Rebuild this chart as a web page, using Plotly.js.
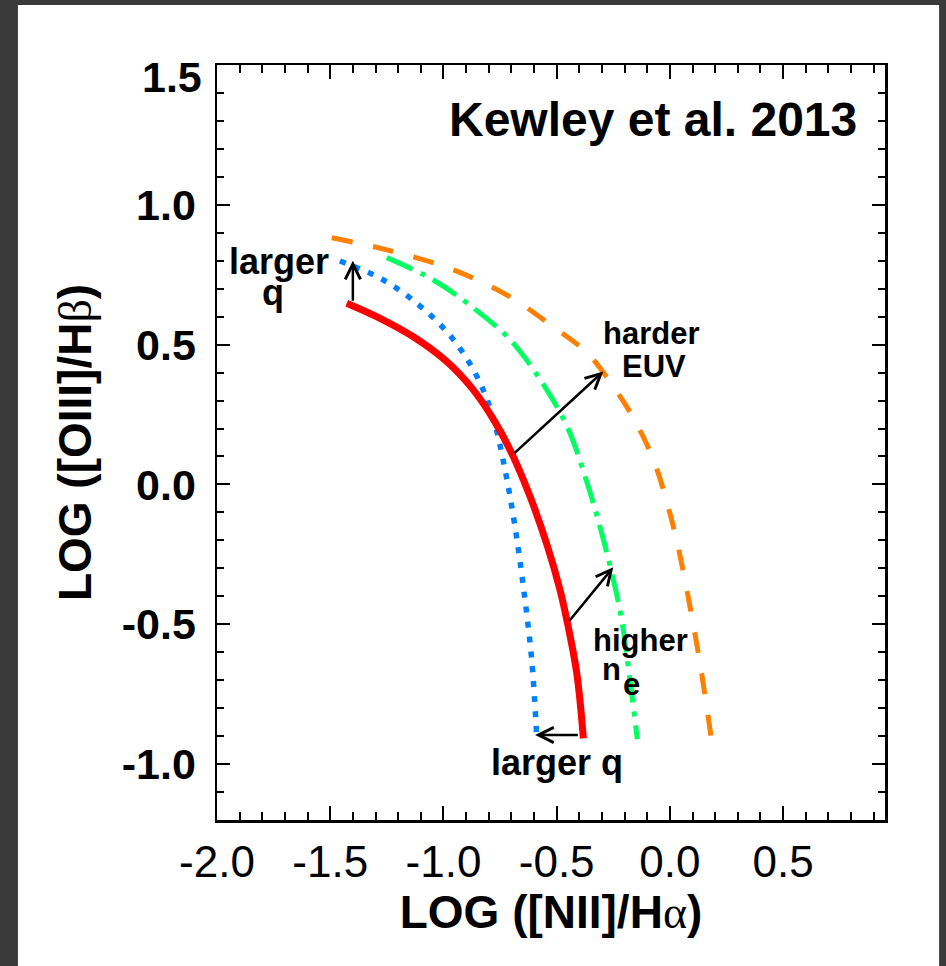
<!DOCTYPE html>
<html><head><meta charset="utf-8">
<script src="https://cdn.plot.ly/plotly-3.0.1.min.js"></script>
<style>html,body{margin:0;padding:0;background:#3a3a3a;}</style>
</head><body><div id="chart" style="width:946px;height:966px;"></div>
<script>
// Tick labels
const xTickVals = [-2.0, -1.5, -1.0, -0.5, 0.0, 0.5];
const xTickText = ['-2.0', '-1.5', '-1.0', '-0.5', '0.0', '0.5'];
const yTickVals = [-1.0, -0.5, 0.0, 0.5, 1.0, 1.5];
const yTickText = ['-1.0', '-0.5', '0.0', '0.5', '1.0', '1.5'];

// Curves
const redX = [-1.427, -1.280, -1.133, -0.985, -0.868, -0.772, -0.698, -0.617, -0.540, -0.485, -0.452, -0.411, -0.382];
const redY = [0.648, 0.594, 0.528, 0.439, 0.338, 0.223, 0.111, -0.044, -0.223, -0.378, -0.497, -0.676, -0.908];
const blueX = [-1.457, -1.267, -1.103, -0.962, -0.852, -0.781, -0.726, -0.684, -0.647, -0.610, -0.588];
const blueY = [0.799, 0.732, 0.638, 0.524, 0.386, 0.240, 0.044, -0.151, -0.366, -0.628, -0.902];
const greenX = [-1.250, -1.046, -0.869, -0.706, -0.573, -0.454, -0.366, -0.294, -0.219, -0.175, -0.144];
const greenY = [0.811, 0.732, 0.632, 0.518, 0.375, 0.207, 0.007, -0.196, -0.457, -0.707, -0.911];
const orangeX = [-1.493, -1.250, -0.958, -0.706, -0.516, -0.366, -0.250, -0.175, -0.073, 0.015, 0.077, 0.135, 0.185];
const orangeY = [0.882, 0.839, 0.768, 0.671, 0.564, 0.471, 0.350, 0.257, 0.089, -0.150, -0.386, -0.650, -0.920];

// Arrows (tail -> head)
const arrowTailX = [-1.40, -0.693, -0.449, -0.400];
const arrowTailY = [0.652, 0.107, -0.493, -0.896];
const arrowHeadX = [-1.40, -0.294, -0.250, -0.595];
const arrowHeadY = [0.800, 0.404, -0.296, -0.896];

// Labels
const labelTexts = ['larger', 'q', 'harder', 'EUV', 'higher', 'n', 'e', 'larger q', 'Kewley et al. 2013'];

const FONT = 'Liberation Sans, Arial, Helvetica, sans-serif';

const traces = [
  {x: orangeX, y: orangeY, mode: 'lines', line: {color: '#ff8000', width: 5, dash: '21px,21px', shape: 'spline'}},
  {x: greenX, y: greenY, mode: 'lines', line: {color: '#00ff60', width: 5, dash: '28px,9px,5px,9px', shape: 'spline'}},
  {x: blueX, y: blueY, mode: 'lines', line: {color: '#0080ff', width: 5.5, dash: '6px,9px', shape: 'spline'}},
  {x: redX, y: redY, mode: 'lines', line: {color: '#ff0000', width: 7, shape: 'spline'}}
];

const annotations = [];
for (let i = 0; i < arrowTailX.length; i++) {
  annotations.push({
    x: arrowHeadX[i], y: arrowHeadY[i], ax: arrowTailX[i], ay: arrowTailY[i],
    xref: 'x', yref: 'y', axref: 'x', ayref: 'y', text: '', showarrow: true,
    arrowhead: 5, arrowsize: 1.2, arrowwidth: 2.5, arrowcolor: 'black', standoff: 0, startstandoff: 0
  });
}
const labelPos = [
  {x: -1.728, y: 0.798, s: 36, xa: 'center'},
  {x: -1.754, y: 0.686, s: 36, xa: 'center'},
  {x: -0.084, y: 0.539, s: 31, xa: 'center'},
  {x: -0.071, y: 0.423, s: 31, xa: 'center'},
  {x: -0.130, y: -0.557, s: 31, xa: 'center'},
  {x: -0.256, y: -0.660, s: 31, xa: 'center'},
  {x: -0.170, y: -0.717, s: 31, xa: 'center'},
  {x: -0.500, y: -0.996, s: 36, xa: 'center'},
  {x: 0.836, y: 1.305, s: 48, xa: 'right'}
];
labelTexts.forEach((t, i) => {
  const p = labelPos[i];
  annotations.push({x: p.x, y: p.y, xref: 'x', yref: 'y', text: t, showarrow: false,
    xanchor: p.xa, yanchor: 'middle', font: {family: FONT, size: p.s, color: 'black', weight: 'bold'}});
});
// top y tick label drawn slightly below its tick, as in the original
annotations.push({x: 0, y: yTickVals[5], xref: 'paper', yref: 'y', text: yTickText[5], showarrow: false,
  xanchor: 'right', yanchor: 'middle', xshift: -13, yshift: -12,
  font: {family: FONT, size: 43, color: 'black', weight: 'bold'}});

const axisCommon = {
  showline: true, linecolor: 'black', linewidth: 2.5, mirror: 'ticks',
  ticks: 'inside', tickcolor: 'black', tickwidth: 2,
  showgrid: false, zeroline: false, tickmode: 'array'
};

const layout = {
  width: 946, height: 966,
  margin: {l: 217, r: 61, t: 65, b: 146},
  paper_bgcolor: '#3a3a3a', plot_bgcolor: 'white',
  showlegend: false,
  font: {family: FONT, color: 'black'},
  xaxis: Object.assign({}, axisCommon, {
    range: [-2.0, 0.95], tickvals: xTickVals, ticktext: xTickText, ticklen: 14,
    minor: {dtick: 0.1, tick0: 0, ticks: 'inside', ticklen: 8, tickwidth: 2, tickcolor: 'black', showgrid: false},
    tickfont: {family: FONT, size: 44, color: 'black'},
    ticklabelstandoff: 2,
    title: {text: 'LOG ([NII]/H<span style="font-weight:normal;font-family:Liberation Serif">α</span>)',
      font: {family: FONT, size: 46, color: 'black', weight: 'bold'}, standoff: 4}
  }),
  yaxis: Object.assign({}, axisCommon, {
    range: [-1.2, 1.5], tickvals: yTickVals, ticktext: yTickText.map((t, i) => i === 5 ? '' : t), ticklen: 13,
    minor: {dtick: 0.1, tick0: 0, ticks: 'inside', ticklen: 7, tickwidth: 2, tickcolor: 'black', showgrid: false},
    tickfont: {family: FONT, size: 43, color: 'black', weight: 'bold'},
    ticklabelstandoff: 10,
    title: {text: 'LOG ([OIII]/H<span style="font-weight:normal;font-family:Liberation Serif">β</span>)',
      font: {family: FONT, size: 46, color: 'black', weight: 'bold'}, standoff: 16}
  }),
  shapes: [{type: 'rect', xref: 'paper', yref: 'paper', x0: -0.298, x1: 1.081, y0: -0.25, y1: 1.0795,
    fillcolor: 'white', line: {width: 0}, layer: 'below'}],
  annotations: annotations
};

Plotly.newPlot('chart', traces, layout, {displayModeBar: false, staticPlot: true});
</script>
</body></html>
